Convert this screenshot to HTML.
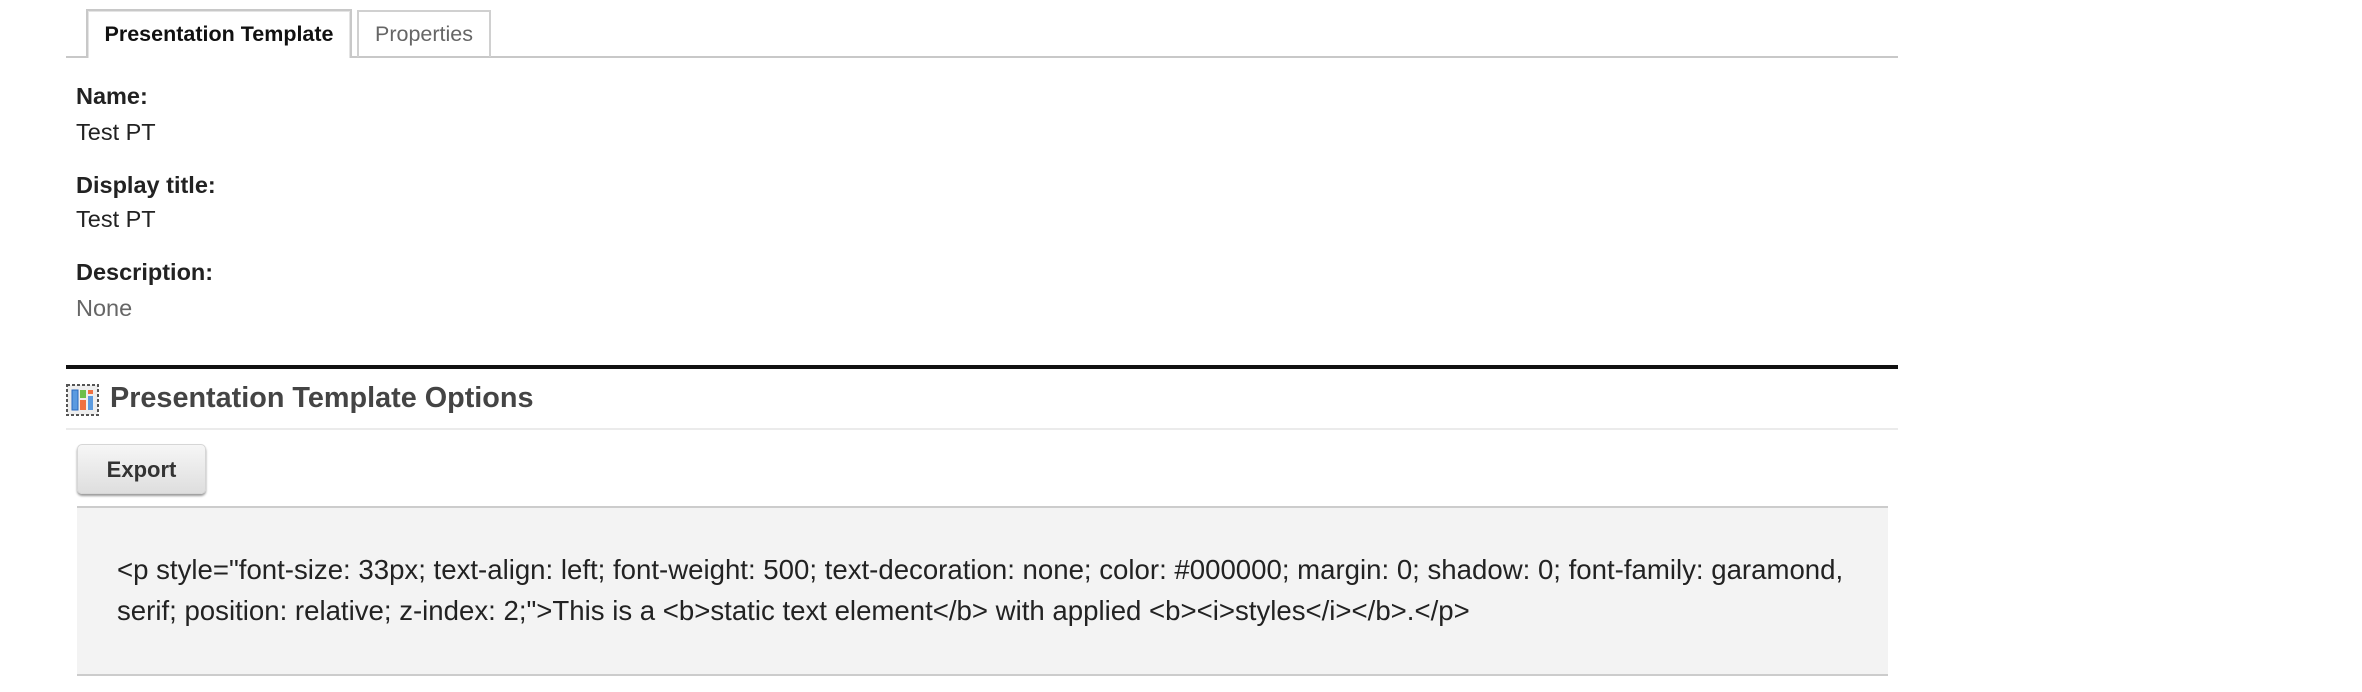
<!DOCTYPE html>
<html><head><style>
body{margin:0;width:2362px;height:692px;background:#fff;font-family:"Liberation Sans",sans-serif;position:relative;overflow:hidden;color:#222}
.a{position:absolute;white-space:nowrap}
</style></head><body>
<div class="a" style="left:66px;top:56px;width:1832px;height:2px;background:#c8c8c8"></div>
<div class="a" style="left:86px;top:9px;width:266px;height:49px;border:2px solid #c8c8c8;border-bottom:none;background:#fff;box-sizing:border-box"></div>
<div class="a" style="left:88px;top:11px;width:262px;height:47px;border:1px solid #e4e4e4;border-bottom:none;box-sizing:border-box"></div>
<div class="a" style="left:86px;top:19px;width:266px;text-align:center;font-size:21.5px;font-weight:bold;color:#111;line-height:30px">Presentation Template</div>
<div class="a" style="left:357px;top:10px;width:134px;height:47px;border:2px solid #d0d0d0;border-bottom:none;box-sizing:border-box"></div>
<div class="a" style="left:357px;top:19px;width:134px;text-align:center;font-size:21.5px;color:#666;line-height:30px">Properties</div>

<div class="a" style="left:76px;top:82px;font-size:23.5px;font-weight:bold;line-height:28px">Name:</div>
<div class="a" style="left:76px;top:118px;font-size:23.5px;line-height:28px">Test PT</div>
<div class="a" style="left:76px;top:171px;font-size:23.5px;font-weight:bold;line-height:28px">Display title:</div>
<div class="a" style="left:76px;top:205px;font-size:23.5px;line-height:28px">Test PT</div>
<div class="a" style="left:76px;top:258px;font-size:23.5px;font-weight:bold;line-height:28px">Description:</div>
<div class="a" style="left:76px;top:294px;font-size:23.5px;line-height:28px;color:#666">None</div>

<div class="a" style="left:66px;top:365px;width:1832px;height:4px;background:#111"></div>
<svg class="a" style="left:66px;top:384px" width="33" height="32" viewBox="0 0 33 32">
<rect x="1" y="1" width="31" height="30" fill="#eee" stroke="#555" stroke-width="2" stroke-dasharray="3 2"/>
<rect x="6" y="6" width="6" height="20" fill="#5b9be0" stroke="#2a6bc0"/>
<rect x="14" y="6" width="6" height="8" fill="#6cbf4a"/>
<rect x="14" y="16" width="6" height="10" fill="#f07040"/>
<rect x="22" y="6" width="5" height="4" fill="#f07040"/>
<rect x="22" y="12" width="5" height="14" fill="#5b9be0"/>
</svg>
<div class="a" style="left:110px;top:381px;font-size:28.8px;font-weight:bold;color:#444;line-height:34px">Presentation Template Options</div>
<div class="a" style="left:66px;top:428px;width:1832px;height:2px;background:#ebebeb"></div>

<div class="a" style="left:77px;top:444px;width:129px;height:50px;border-radius:5px;background:linear-gradient(#f6f6f6,#dedede);box-shadow:0 2px 2px #999;border:1px solid #d6d6d6;box-sizing:border-box;text-align:center;line-height:49px;font-size:22px;font-weight:bold;color:#333">Export</div>

<div class="a" style="left:77px;top:506px;width:1811px;height:170px;background:#f3f3f3;border-top:2px solid #ccc;border-bottom:2px solid #ccc;box-sizing:border-box"></div>
<div class="a" style="left:117px;top:549px;font-size:27.6px;line-height:41px;color:#222">&lt;p style="font-size: 33px; text-align: left; font-weight: 500; text-decoration: none; color: #000000; margin: 0; shadow: 0; font-family: garamond,<br>serif; position: relative; z-index: 2;"&gt;This is a &lt;b&gt;static text element&lt;/b&gt; with applied &lt;b&gt;&lt;i&gt;styles&lt;/i&gt;&lt;/b&gt;.&lt;/p&gt;</div>
</body></html>
